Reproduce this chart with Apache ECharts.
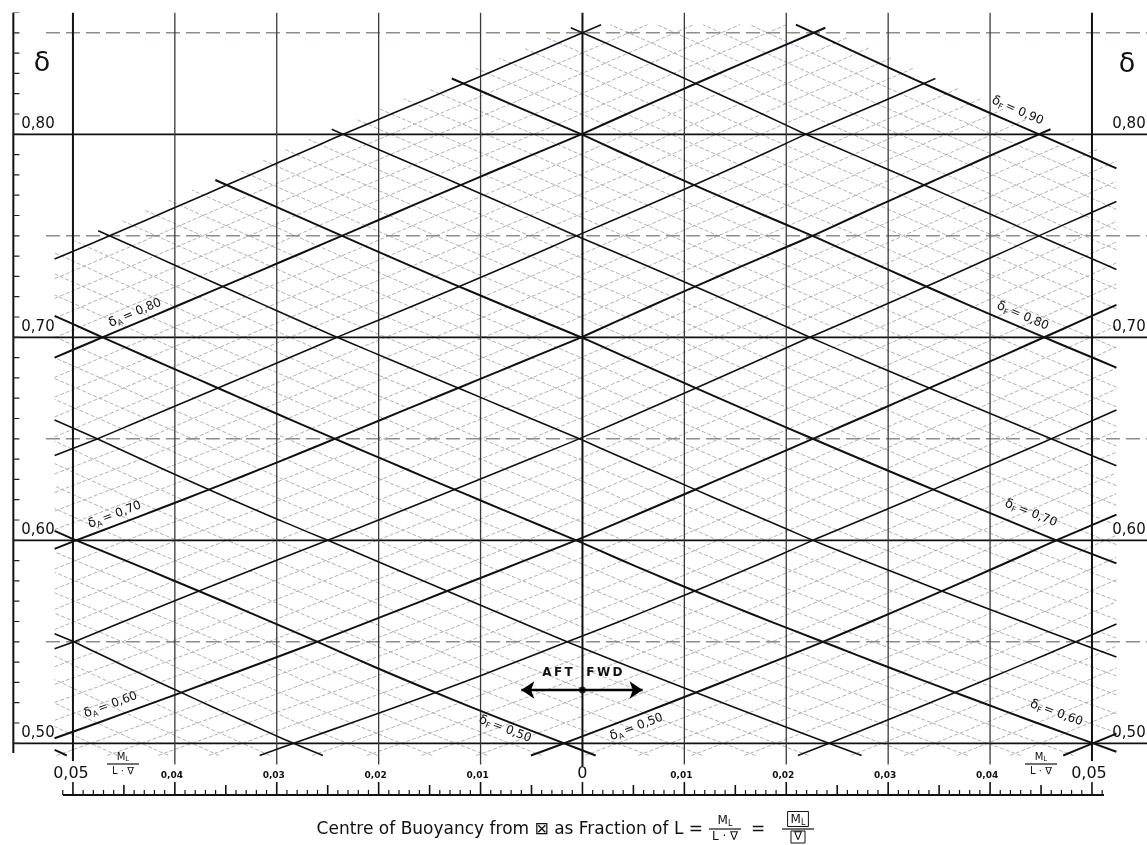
<!DOCTYPE html>
<html>
<head>
<meta charset="utf-8">
<title>Centre of Buoyancy nomogram</title>
<script src="https://cdn.jsdelivr.net/npm/echarts@6.0.0/dist/echarts.min.js"></script>
<style>
  html, body { margin: 0; padding: 0; background: #ffffff; }
  #chart { width: 1147px; height: 845px; }
</style>
</head>
<body>
<div id="chart"></div>
<script>
// ---------------------------------------------------------------------------
// Nomogram: block coefficient δ against the longitudinal centre of buoyancy,
// overlaid with the after-body (δA) and fore-body (δF) coefficient families.
// ---------------------------------------------------------------------------

// Rows of δ on which the δA / δF crossings are tabulated
const rowDelta = [0.50, 0.55, 0.60, 0.65, 0.70, 0.75, 0.80, 0.85];
// Columns: δF − δA at each tabulated crossing
const spreadCols = [-0.20, -0.10, 0.00, 0.10, 0.20];
// Centre of buoyancy (fraction of L, + forward) of every crossing, row by row
const crossLcb = [
  [-0.0532, -0.0284, -0.0018, 0.0242, 0.0501],
  [-0.0499, -0.0260, -0.0015, 0.0236, 0.0484],
  [-0.0497, -0.0250, -0.0006, 0.0226, 0.0465],
  [-0.0476, -0.0243, -0.0003, 0.0226, 0.0460],
  [-0.0471, -0.0241, -0.0001, 0.0223, 0.0453],
  [-0.0464, -0.0236, -0.0006, 0.0226, 0.0448],
  [-0.0461, -0.0235, -0.0001, 0.0219, 0.0448],
  [-0.0458, -0.0231,  0.0000, 0.0227, 0.0446]
];

// Heavy coefficient lines
const aftMajor  = [0.40, 0.45, 0.50, 0.55, 0.60, 0.65, 0.70, 0.75, 0.80, 0.85];
const foreMajor = [0.40, 0.45, 0.50, 0.55, 0.60, 0.65, 0.70, 0.75, 0.80, 0.85, 0.90];
// Fine hatching range (hundredths)
const aftFineRange  = [38, 85];
const foreFineRange = [38, 90];

// Reference grid of the chart
const deltaRows   = [0.50, 0.55, 0.60, 0.65, 0.70, 0.75, 0.80, 0.85];
const deltaLabels = ['0,50', '0,60', '0,70', '0,80'];
const deltaLabelValues = [0.50, 0.60, 0.70, 0.80];
const lcbTicks  = [-0.05, -0.04, -0.03, -0.02, -0.01, 0, 0.01, 0.02, 0.03, 0.04, 0.05];
const lcbLabels = ['0,05', '0,04', '0,03', '0,02', '0,01', '0', '0,01', '0,02', '0,03', '0,04', '0,05'];

// Line captions: family, value text, caption centre [lcb, δ]
const lineCaptions = [
  { family: 'A', value: 0.80, text: '0,80', at: [-0.0439, 0.7120] },
  { family: 'A', value: 0.70, text: '0,70', at: [-0.0459, 0.6125] },
  { family: 'A', value: 0.60, text: '0,60', at: [-0.0463, 0.5189] },
  { family: 'A', value: 0.50, text: '0,50', at: [ 0.0053, 0.5080] },
  { family: 'F', value: 0.50, text: '0,50', at: [-0.0076, 0.5070] },
  { family: 'F', value: 0.60, text: '0,60', at: [ 0.0465, 0.5149] },
  { family: 'F', value: 0.70, text: '0,70', at: [ 0.0440, 0.6134] },
  { family: 'F', value: 0.80, text: '0,80', at: [ 0.0432, 0.7105] },
  { family: 'F', value: 0.90, text: '0,90', at: [ 0.0427, 0.8116] }
];

// ---------------------------------------------------------------------------
const X_MIN = -0.056, X_MAX = 0.0554, Y_MIN = 0.47, Y_MAX = 0.86;
const GRID = { left: 11.8, top: 12.5, width: 1136.3, height: 791.7 };
const PXY = GRID.height / (Y_MAX - Y_MIN);   // px per unit δ
const dpx = (px) => px / PXY;                // vertical pixels → δ units

// Extent of the coefficient field
const FIELD = { lcbMin: -0.0518, lcbMax: 0.0524, deltaMin: 0.494, deltaMax: 0.854,
                aftMax: 0.855, foreMax: 0.905 };

function lcbAt(delta, spread) {
  const r = (delta - rowDelta[0]) / (rowDelta[1] - rowDelta[0]);
  const c = (spread - spreadCols[0]) / (spreadCols[1] - spreadCols[0]);
  const i = Math.min(Math.max(Math.floor(r), 0), rowDelta.length - 2);
  const j = Math.min(Math.max(Math.floor(c), 0), spreadCols.length - 2);
  const t = r - i, u = c - j, T = crossLcb;
  return (1 - t) * (1 - u) * T[i][j] + (1 - t) * u * T[i][j + 1] +
         t * (1 - u) * T[i + 1][j] + t * u * T[i + 1][j + 1];
}
function pointOn(family, value, delta) {
  const s = family === 'A' ? 2 * (delta - value) : 2 * (value - delta);
  return [lcbAt(delta, s), delta];
}
function deltaWhere(family, value, lcb) {
  let lo = 0.3, hi = 1.1;
  const rising = family === 'A';
  for (let k = 0; k < 60; k++) {
    const m = (lo + hi) / 2;
    const x = pointOn(family, value, m)[0];
    if ((x < lcb) === rising) lo = m; else hi = m;
  }
  return (lo + hi) / 2;
}
function trace(family, value) {
  const F = FIELD;
  let lo, hi;
  if (family === 'A') {
    if (value > F.aftMax) return null;
    lo = Math.max(F.deltaMin, deltaWhere('A', value, F.lcbMin));
    hi = Math.min(F.deltaMax, (F.foreMax + value) / 2, deltaWhere('A', value, F.lcbMax));
  } else {
    if (value > F.foreMax) return null;
    lo = Math.max(F.deltaMin, deltaWhere('F', value, F.lcbMax));
    hi = Math.min(F.deltaMax, (F.aftMax + value) / 2, deltaWhere('F', value, F.lcbMin));
  }
  if (hi - lo < 2e-4) return null;
  const n = Math.max(2, Math.ceil((hi - lo) / 0.004));
  const pts = [];
  for (let k = 0; k <= n; k++) pts.push(pointOn(family, value, lo + (hi - lo) * k / n));
  return pts;
}

// fine hatching
const hatch = [];
[['A', aftFineRange], ['F', foreFineRange]].forEach(([fam, rng]) => {
  for (let h = rng[0]; h <= rng[1]; h++) {
    if (h % 5 === 0) continue;
    const pts = trace(fam, h / 100);
    if (pts) hatch.push({ coords: pts });
  }
});
// heavy lines
const heavy = [];
[['A', aftMajor], ['F', foreMajor]].forEach(([fam, vals]) => {
  vals.forEach(v => {
    const pts = trace(fam, v);
    if (!pts) return;
    const decade = Math.round(v * 100) % 10 === 0;
    heavy.push({ coords: pts, lineStyle: { width: decade ? 2.0 : 1.6, color: '#111' } });
  });
});

// reference grid
const AXIS_X = -0.05585;
const gridLines = [];
deltaRows.forEach(d => {
  const solid = Math.round(d * 100) % 10 === 0;
  gridLines.push(solid
    ? { coords: [[AXIS_X, d], [X_MAX, d]], lineStyle: { color: '#111', width: 1.8, type: 'solid' } }
    : { coords: [[-0.05265, d], [X_MAX, d]], lineStyle: { color: '#8e8e84', width: 1.4, type: [14, 6] } });
});
lcbTicks.forEach(x => {
  const edge = Math.abs(Math.abs(x) - 0.05) < 1e-9;
  const centre = Math.abs(x) < 1e-9;
  gridLines.push({
    coords: [[x, Y_MAX], [x, edge ? 0.4913 : (centre ? 0.4888 : 0.4895)]],
    lineStyle: { color: edge || centre ? '#111' : '#3a3a3a', width: edge || centre ? 2.0 : 1.3, type: 'solid' }
  });
});
// left δ scale
gridLines.push({ coords: [[AXIS_X, 0.4952], [AXIS_X, Y_MAX]], lineStyle: { color: '#111', width: 2, type: 'solid' } });
for (let h = 50; h <= 86; h++) {
  gridLines.push({ coords: [[AXIS_X, h / 100], [AXIS_X + 0.0006, h / 100]], lineStyle: { color: '#222', width: 1.2, type: 'solid' } });
}
// bottom centre-of-buoyancy scale
const RULER_Y = 0.47453;
gridLines.push({ coords: [[-0.05098, RULER_Y], [0.05118, RULER_Y]], lineStyle: { color: '#111', width: 2.2, type: 'solid' } });
for (let k = -51; k <= 51; k++) {
  const h = k % 10 === 0 ? 13 : (k % 5 === 0 ? 10 : 5);
  gridLines.push({ coords: [[k / 1000, RULER_Y], [k / 1000, RULER_Y + dpx(h)]],
                   lineStyle: { color: '#111', width: k % 5 === 0 ? 1.6 : 1.2, type: 'solid' } });
}

// AFT / FWD arrow
const arrowData = [{ coords: [[0, 0.52626], [-0.0060, 0.52626]] }, { coords: [[0, 0.52626], [0.0059, 0.52626]] }];

const chart = echarts.init(document.getElementById('chart'), null, { renderer: 'canvas' });
chart.setOption({
  animation: false,
  backgroundColor: '#ffffff',
  grid: GRID,
  xAxis: { type: 'value', min: X_MIN, max: X_MAX, show: false },
  yAxis: { type: 'value', min: Y_MIN, max: Y_MAX, show: false },
  series: [
    { type: 'lines', coordinateSystem: 'cartesian2d', polyline: true, silent: true, z: 1,
      lineStyle: { color: '#a3a3a3', width: 0.85, type: [4, 2], opacity: 1 }, data: hatch },
    { type: 'lines', coordinateSystem: 'cartesian2d', polyline: true, silent: true, z: 2,
      lineStyle: { opacity: 1 }, data: gridLines },
    { type: 'lines', coordinateSystem: 'cartesian2d', polyline: true, silent: true, z: 3,
      lineStyle: { opacity: 1 }, data: heavy },
    { type: 'lines', coordinateSystem: 'cartesian2d', polyline: false, silent: true, z: 4,
      symbol: ['none', 'arrow'], symbolSize: [0, 13],
      lineStyle: { color: '#000', width: 2.4, opacity: 1 }, data: arrowData },
    { type: 'scatter', silent: true, z: 5, symbol: 'circle', symbolSize: 7,
      itemStyle: { color: '#000' }, data: [[0, 0.52626]] }
  ]
});

// ---------------------------------------------------------------------------
// Text
const px = (p) => chart.convertToPixel({ xAxisIndex: 0, yAxisIndex: 0 }, p);
const FONT = 'DejaVu Sans';
const g = [];
function txt(p, text, size, opts) {
  const o = Object.assign({ align: 'center', weight: 'normal', dy: 0, dx: 0 }, opts || {});
  g.push({ type: 'text', x: p[0] + o.dx, y: p[1] + o.dy, z: 10, silent: true,
           rotation: o.rotation || 0,
           style: { text, fill: '#111', fontFamily: FONT, fontSize: size, fontWeight: o.weight,
                    align: o.align, verticalAlign: 'middle', rich: o.rich } });
}

// δ scale labels (left and right)
deltaLabelValues.forEach((d, i) => {
  const y = px([0, d])[1] - 10;
  txt([38, y], deltaLabels[i], 15);
  txt([1129, y], deltaLabels[i], 15);
});
txt([42, 64], 'δ', 27);
txt([1127, 65], 'δ', 27);

// centre-of-buoyancy tick labels
lcbTicks.forEach((x, i) => {
  const p = px([x, 0.4839]);
  const big = Math.abs(x) < 1e-9 || Math.abs(Math.abs(x) - 0.05) < 1e-9;
  if (big) txt([p[0] + (x < 0 ? -2 : (x > 0 ? -3 : 0)), p[1] - 2], lcbLabels[i], 16);
  else txt([p[0] - 3, p[1]], lcbLabels[i], 9, { weight: 'bold' });
});

// M_L / (L·∇) fractions
const RICH = {
  m: { fontFamily: FONT, fontSize: 10, lineHeight: 12, verticalAlign: 'middle', fill: '#111' },
  s: { fontFamily: FONT, fontSize: 7, lineHeight: 6, verticalAlign: 'bottom', fill: '#111' },
  M: { fontFamily: FONT, fontSize: 12, lineHeight: 14, verticalAlign: 'middle', fill: '#111' },
  S: { fontFamily: FONT, fontSize: 8, lineHeight: 7, verticalAlign: 'bottom', fill: '#111' },
  d: { fontFamily: FONT, fontSize: 13, lineHeight: 15, verticalAlign: 'middle', fill: '#111' },
  t: { fontFamily: FONT, fontSize: 12, lineHeight: 15, verticalAlign: 'middle', fill: '#111' },
  ds: { fontFamily: FONT, fontSize: 8, lineHeight: 6, verticalAlign: 'bottom', fill: '#111', padding: [0, 2, 0, 0] }
};
function fraction(cx, cy, w, size, big) {
  g.push({ type: 'text', x: cx, y: cy - (big ? 8 : 7), z: 10, silent: true,
           style: { text: big ? '{M|M}{S|L}' : '{m|M}{s|L}', rich: RICH, align: 'center', verticalAlign: 'middle' } });
  g.push({ type: 'line', z: 10, silent: true, shape: { x1: cx - w / 2, y1: cy, x2: cx + w / 2, y2: cy },
           style: { stroke: '#111', lineWidth: 1.2 } });
  g.push({ type: 'text', x: cx, y: cy + (big ? 8 : 7), z: 10, silent: true,
           style: { text: 'L · ∇', fill: '#111', fontFamily: FONT, fontSize: size, align: 'center', verticalAlign: 'middle' } });
}
fraction(123, 764, 32, 10, false);
fraction(1041, 764, 32, 10, false);

// captions along the coefficient lines
lineCaptions.forEach(c => {
  const d0 = deltaWhere(c.family, c.value, c.at[0]);
  const a = px(pointOn(c.family, c.value, d0 - 0.01));
  const b = px(pointOn(c.family, c.value, d0 + 0.01));
  let ang = Math.atan2(-(b[1] - a[1]), b[0] - a[0]);
  if (ang > Math.PI / 2) ang -= Math.PI;
  if (ang < -Math.PI / 2) ang += Math.PI;
  const p = px(c.at);
  g.push({ type: 'text', x: p[0], y: p[1], rotation: ang, z: 10, silent: true,
           style: { text: '{d|δ}{ds|' + c.family + '}{t|= ' + c.text + '}', rich: RICH,
                    align: 'center', verticalAlign: 'middle' } });
});

// AFT / FWD
const pa = px([0, 0.52626]);
txt([pa[0] - 25, pa[1] - 17], 'A\u2009F\u2009T', 12, { weight: 'bold' });
txt([pa[0] + 22, pa[1] - 17], 'F\u2009W\u2009D', 12, { weight: 'bold' });

// caption of the horizontal scale
txt([703, 830], 'Centre of Buoyancy from ⊠ as Fraction of L =', 17, { align: 'right' });
fraction(725, 829, 32, 12, true);
txt([758, 830], '=', 17);
g.push({ type: 'text', x: 798, y: 819, z: 10, silent: true,
         style: { text: '{M|M}{S|L}', rich: RICH, align: 'center', verticalAlign: 'middle',
                  borderColor: '#111', borderWidth: 1, padding: [1, 3, 0, 3] } });
g.push({ type: 'line', z: 10, silent: true, shape: { x1: 782, y1: 829, x2: 814, y2: 829 },
         style: { stroke: '#111', lineWidth: 1.2 } });
g.push({ type: 'text', x: 798, y: 837, z: 10, silent: true,
         style: { text: '∇', fill: '#111', fontFamily: FONT, fontSize: 12, align: 'center', verticalAlign: 'middle',
                  borderColor: '#111', borderWidth: 1, padding: [0, 3, 0, 3] } });

chart.setOption({ graphic: { elements: g } });
</script>
</body>
</html>
